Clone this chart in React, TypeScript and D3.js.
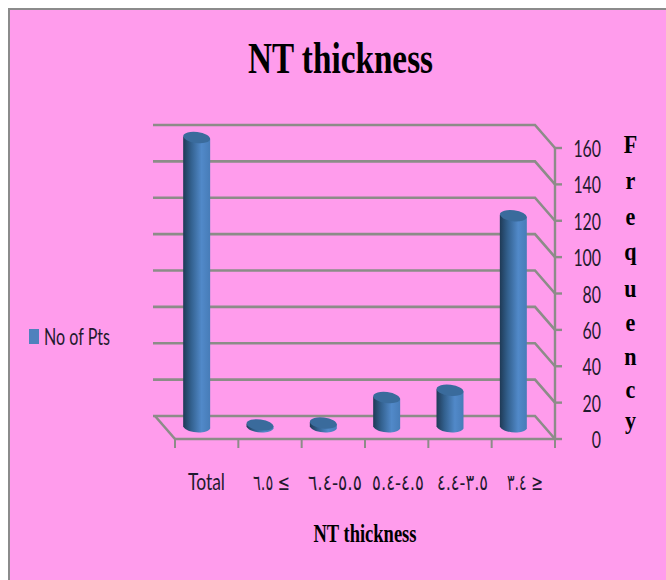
import React from "react";
import * as d3 from "d3";

const categories = ["Total", "٦.٥ ≤", "٦.٤-٥.٥", "٥.٤-٤.٥", "٤.٤-٣.٥", "٣.٤ ≥"];
const noOfPts = [160, 2, 3, 17, 21, 117];
const ticks = [0, 20, 40, 60, 80, 100, 120, 140, 160];
const axisLetters = ["F", "r", "e", "q", "u", "e", "n", "c", "y"];
const letterBaselines = [153, 189, 225, 260, 297, 331, 365, 398, 429];
const labelSpans = [
  [188, 225],
  [253, 290],
  [308, 362],
  [372, 424],
  [437, 488],
  [507, 543],
];

const serif = "'Liberation Serif', serif";
const narrow = "Lato, sans-serif";
const arabic = "'DejaVu Sans', sans-serif";

const width = 666;
const height = 580;
const depthX = 20;
const depthY = 23;
const gridColor = "#8c8c88";

const x = d3.scaleBand<string>().domain(categories).range([175, 555]);
const y = d3.scaleLinear().domain([0, 160]).range([439, 148]);

function Bar({ label, value }: { label: string; value: number }) {
  const cx = (x(label) as number) + x.bandwidth() / 2 - depthX / 2;
  const base = y(0) - depthY / 2;
  const top = y(value) - depthY / 2;
  const rx = 13.5;
  const ry = 5.5;
  const body = d3.path();
  body.moveTo(cx - rx, top);
  body.lineTo(cx - rx, base - 1);
  body.bezierCurveTo(cx - rx + 3, base + 6, cx + rx - 3, base + 7, cx + rx, base + 1);
  body.lineTo(cx + rx, top + 2);
  body.closePath();
  return (
    <g>
      <path d={body.toString()} fill="url(#barBody)" />
      <ellipse
        cx={cx}
        cy={top + 1}
        rx={rx}
        ry={ry}
        fill="#3a6b9c"
        transform={`rotate(7 ${cx} ${top + 1})`}
      />
    </g>
  );
}

export default function App() {
  return (
    <svg
      width={width}
      height={height}
      viewBox={`0 0 ${width} ${height}`}
      style={{ position: "absolute", left: 0, top: 0, display: "block", background: "#fff" }}
    >
      <defs>
        <linearGradient id="barBody" x1="0" x2="1" y1="0" y2="0">
          <stop offset="0" stopColor="#1f3a56" />
          <stop offset="0.3" stopColor="#33618f" />
          <stop offset="0.68" stopColor="#5189c9" />
          <stop offset="1" stopColor="#477cb8" />
        </linearGradient>
      </defs>

      <rect x={9} y={9} width={width} height={height} fill="#ff9cec" stroke="#8b8b8b" strokeWidth={2} />

      <text
        x={340.5}
        y={73}
        textAnchor="middle"
        fontFamily={serif}
        fontWeight="bold"
        fontSize={45}
        textLength={185}
        lengthAdjust="spacingAndGlyphs"
        fill="#000"
      >
        NT thickness
      </text>

      {/* Back wall gridlines and their slant down to the value axis */}
      {ticks.map((t) => (
        <path
          key={t}
          d={`M153,${y(t) - depthY}H${555 - depthX}L555,${y(t)}`}
          fill="none"
          stroke={gridColor}
          strokeWidth={2.6}
        />
      ))}
      <path d={`M175,${y(0)}L${175 - depthX},${y(0) - depthY}`} fill="none" stroke={gridColor} strokeWidth={2.6} />

      {/* Floor edge, category ticks and value axis */}
      <path d={`M175,${y(0)}H555`} stroke={gridColor} strokeWidth={2.6} fill="none" />
      {[...categories.map((c) => x(c) as number), 555].map((px) => (
        <line key={px} x1={px} x2={px} y1={y(0)} y2={y(0) + 9} stroke={gridColor} strokeWidth={2} />
      ))}
      <line x1={555} x2={555} y1={y(160)} y2={y(0)} stroke={gridColor} strokeWidth={2.4} />
      {ticks.map((t) => (
        <line key={t} x1={555} x2={562} y1={y(t)} y2={y(t)} stroke={gridColor} strokeWidth={2.4} />
      ))}

      {categories.map((c, i) => (
        <Bar key={c} label={c} value={noOfPts[i]} />
      ))}

      {ticks.map((t) => (
        <text
          key={t}
          x={601}
          y={y(t) + 9}
          textAnchor="end"
          fontFamily={narrow}
          fontSize={24}
          textLength={String(t).length * 9.2}
          lengthAdjust="spacingAndGlyphs"
          fill="#1f1a2e"
        >
          {t}
        </text>
      ))}

      {categories.map((c, i) => {
        const [x0, x1] = labelSpans[i];
        const isLatin = i === 0;
        return (
          <text
            key={c}
            x={x0}
            y={490}
            fontFamily={isLatin ? narrow : arabic}
            fontSize={isLatin ? 23 : 22}
            textLength={x1 - x0}
            lengthAdjust="spacingAndGlyphs"
            fill="#1f1a2e"
            style={{ direction: "ltr", unicodeBidi: "bidi-override" }}
          >
            {c}
          </text>
        );
      })}

      <text
        x={365}
        y={542}
        textAnchor="middle"
        fontFamily={serif}
        fontWeight="bold"
        fontSize={26}
        textLength={103}
        lengthAdjust="spacingAndGlyphs"
        fill="#000"
      >
        NT thickness
      </text>

      {axisLetters.map((l, i) => (
        <text
          key={i}
          transform={`translate(630.5,${letterBaselines[i]}) scale(0.85,1)`}
          textAnchor="middle"
          fontFamily={serif}
          fontWeight="bold"
          fontSize={26}
          fill="#000"
        >
          {l}
        </text>
      ))}

      <rect x={29} y={329} width={10} height={15} fill="#4f81bd" />
      <text
        x={44}
        y={345}
        fontFamily={narrow}
        fontSize={23}
        textLength={66}
        lengthAdjust="spacingAndGlyphs"
        fill="#1f1a2e"
      >
        No of Pts
      </text>
    </svg>
  );
}
